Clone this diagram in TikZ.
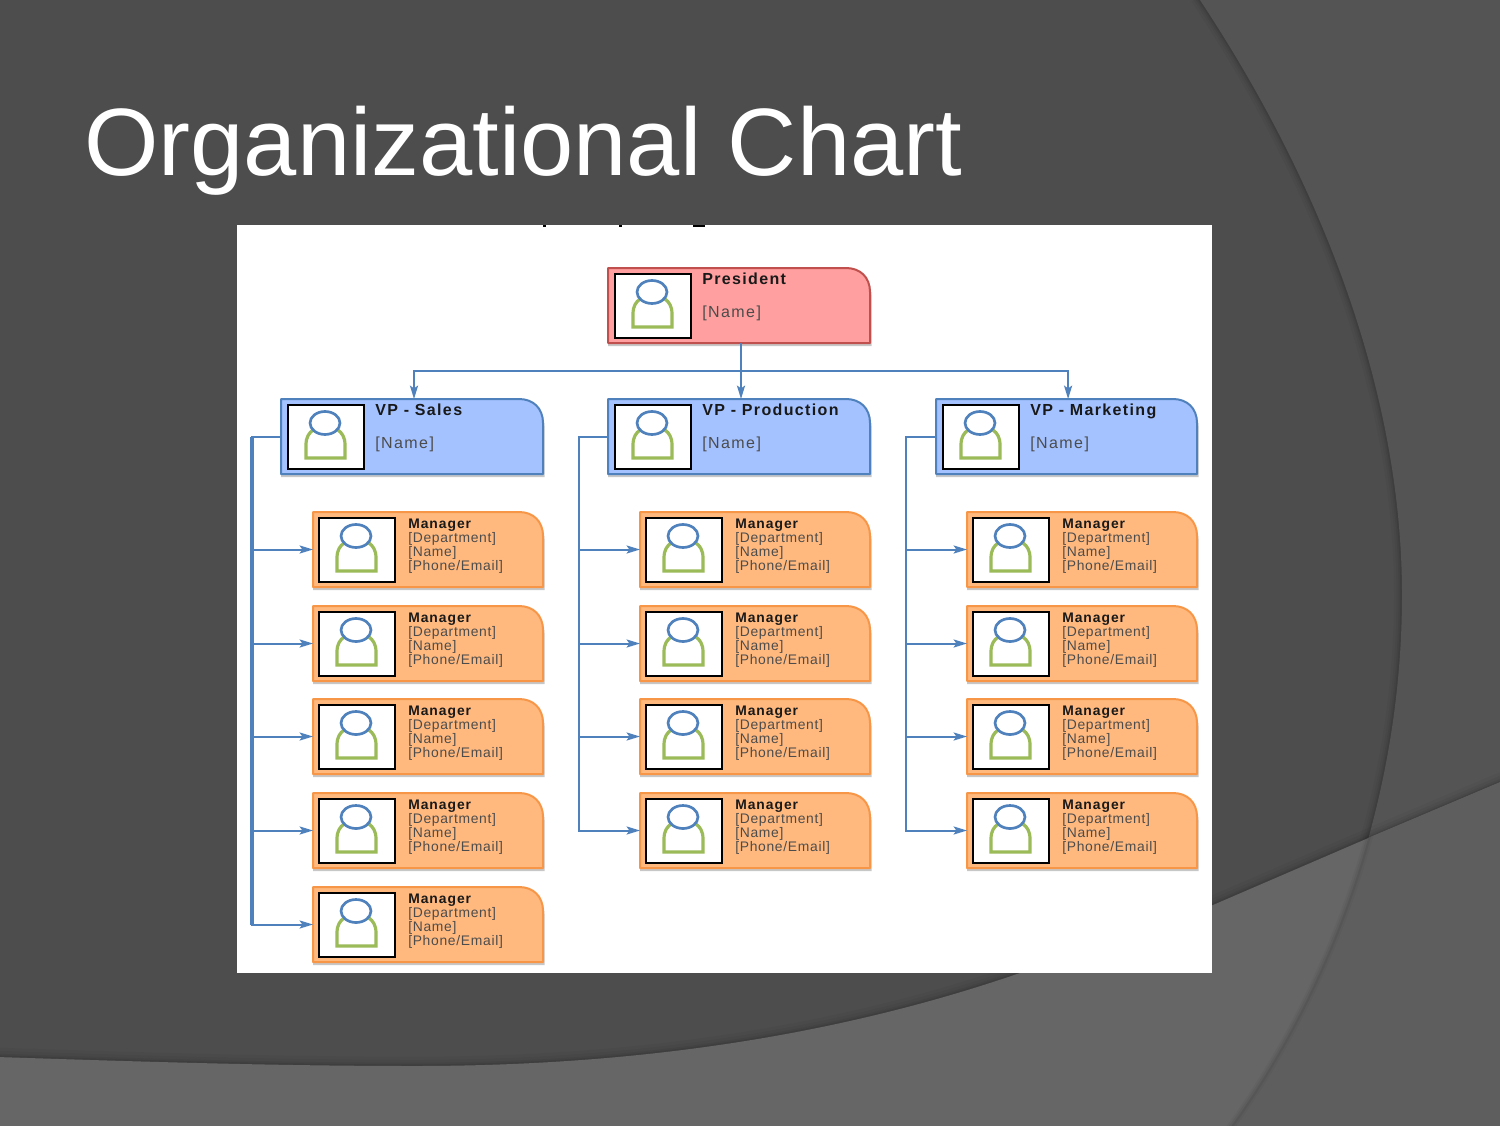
\documentclass[tikz,border=0pt]{standalone}
\usepackage{fontspec}
\setmainfont{Liberation Sans}
\newfontfamily\cardreg[LetterSpace=5]{Liberation Sans}
\newfontfamily\cardbold[LetterSpace=7]{Liberation Sans Bold}
\newfontfamily\vpreg[LetterSpace=9]{Liberation Sans}
\newfontfamily\vpbold[LetterSpace=8.5]{Liberation Sans Bold}
\usetikzlibrary{arrows.meta}
\definecolor{bgdark}{HTML}{4D4D4D}
\definecolor{bgright}{HTML}{545454}
\definecolor{bgbottom}{HTML}{666666}
\definecolor{bgcorner}{HTML}{5E5E5E}
\definecolor{linkblue}{HTML}{4F81BD}
\definecolor{personblue}{HTML}{4F81BD}
\definecolor{persongreen}{HTML}{9BBB59}
\definecolor{pinkfill}{HTML}{FF9F9F}
\definecolor{pinkline}{HTML}{C0504D}
\definecolor{bluefill}{HTML}{A4C2FF}
\definecolor{orangefill}{HTML}{FFB97F}
\definecolor{orangeline}{HTML}{F79646}
\tikzset{
  presbox/.style={fill=pinkfill,draw=pinkline},
  vpbox/.style={fill=bluefill,draw=linkblue},
  mgrbox/.style={fill=orangefill,draw=orangeline},
  link/.style={draw=linkblue,line width=1.5pt},
  linkarrow/.style={link,-{Stealth[length=10pt,width=6pt,inset=2pt]}},
  photo/.style={draw=black,line width=1.5pt,fill=white,inner sep=0pt,minimum width=57pt,minimum height=48pt,anchor=north west},
  anchorbox/.style={inner sep=0pt,outer sep=0pt},
  bigtxt/.style={anchor=base west,inner sep=0pt,text=#1},
  bigtxt/.default=black
}
% card: name, x, y, w, fill style, photo left offset
\newcommand{\cardshape}[6]{%
  \begin{scope}[shift={(#2,#3)}]
    \fill[black,opacity=.22] (0,3) -- (#4-24,3) .. controls (#4-9,3) and (#4+1.5,12) .. (#4+1.5,27) -- (#4+1.5,78) -- (0,78) -- cycle;
    \path[#5,line width=1.5pt,line join=round] (0,0) -- (#4-24,0) .. controls (#4-10,0) and (#4,9) .. (#4,24) -- (#4,75) -- (0,75) -- cycle;
    \node[anchorbox,minimum width=#4*0.75pt,minimum height=56.25pt] (#1) at (#4/2,37.5) {};
    \node[photo] (#1photo) at (#6,4.5) {};
    \draw[persongreen,line width=2.4pt,fill=white,line join=miter] (#6+19,59) -- (#6+19,46) .. controls (#6+19,38) and (#6+22,34) .. (#6+26,31) -- (#6+51,31) .. controls (#6+55,34) and (#6+58,38) .. (#6+58,46) -- (#6+58,59) -- cycle;
    \draw[personblue,line width=2pt,fill=white] (#6+38,24) ellipse [x radius=15,y radius=11.5];
  \end{scope}}
\newcommand{\mgr}[3]{%
  \cardshape{#1}{#2}{#3}{230}{mgrbox}{5}
  \begin{scope}[shift={(#2,#3)}]
    \node[bigtxt=black!90] (#1a) at (95,16) {\cardbold\fontsize{10.4pt}{11pt}\selectfont Manager};
    \node[bigtxt=black!70] (#1b) at (95,30) {\cardreg\fontsize{10.4pt}{11pt}\selectfont [Department]};
    \node[bigtxt=black!70] (#1c) at (95,44) {\cardreg\fontsize{10.4pt}{11pt}\selectfont [Name]};
    \node[bigtxt=black!70] (#1d) at (95,58) {\cardreg\fontsize{10.4pt}{11pt}\selectfont [Phone/Email]};
  \end{scope}}
\newcommand{\lead}[6]{%
  \cardshape{#1}{#2}{#3}{#4}{#5}{6}
  \begin{scope}[shift={(#2,#3)}]
    \node[bigtxt=black!90] (#1a) at (94,16) {\vpbold\fontsize{12pt}{13pt}\selectfont #6};
    \node[bigtxt=black!70] (#1b) at (94,49) {\vpreg\fontsize{12pt}{13pt}\selectfont [Name]};
  \end{scope}}
\begin{document}
\begin{tikzpicture}[x=0.75pt,y=-0.75pt]
\useasboundingbox (0,0) rectangle (1500,1125);
\def\arcpath{(1198,-3) .. controls (1320,180) and (1402,390) .. (1402,595) .. controls (1402,800) and (1330,990) .. (1230,1128)}
\def\lowpath{(-3,1057) .. controls (150,1062) and (280,1066) .. (415,1066) .. controls (640,1066) and (840,1035) .. (1020,973) .. controls (1090,950) and (1150,930) .. (1213,905) -- (1373,836) -- (1503,781)}
% slide background
\fill[bgdark] (0,0) rectangle (1500,1125);
\foreach \w/\o in {12pt/.03,8pt/.04,5pt/.05,2.5pt/.07}{\draw[black,opacity=\o,line width=\w] \arcpath;}
\fill[bgright] \arcpath -- (1503,1128) -- (1503,-3) -- cycle;
\foreach \w/\o in {14pt/.03,9pt/.04,5pt/.05,2.5pt/.07}{\draw[black,opacity=\o,line width=\w] \lowpath;}
\fill[bgbottom] \lowpath -- (1503,1128) -- (-3,1128) -- cycle;
\begin{scope}
  \clip \lowpath -- (1503,1128) -- (-3,1128) -- cycle;
  \fill[bgcorner] \arcpath -- (1503,1128) -- (1503,-3) -- cycle;
  \foreach \w/\o in {6pt/.03,3pt/.05}{\draw[black,opacity=\o,line width=\w] \arcpath;}
\end{scope}
% title
\node[anchor=base west,inner sep=0pt,text=white] (title) at (84,175) {\fontsize{71.8pt}{76pt}\selectfont Organizational Chart};
% white picture panel
\fill[white] (237,225) rectangle (1212,973);
\fill[black] (543,225) rectangle (546,227);
\fill[black] (619,225) rectangle (622,227);
\fill[black] (693,225) rectangle (705,227);
% cards
\lead{pres}{608}{268}{262}{presbox}{President}
\lead{vpa}{281}{399}{262}{vpbox}{VP - Sales}
\lead{vpb}{608}{399}{262}{vpbox}{VP - Production}
\lead{vpc}{936}{399}{261}{vpbox}{VP - Marketing}
\foreach \n/\yy in {1/512,2/606,3/699,4/793,5/887}{\mgr{ma\n}{313}{\yy}}
\foreach \n/\yy in {1/512,2/606,3/699,4/793}{\mgr{mb\n}{640}{\yy}\mgr{mc\n}{967}{\yy}}
% connectors
\coordinate (presout) at ([xshift=1.5pt]pres.south);
\draw[link] (presout) -- ++(0,28) coordinate (bus);
\draw[linkarrow] (bus) -| ([xshift=1.5pt]vpa.north);
\draw[linkarrow] (bus) -- ([xshift=1.5pt]vpb.north);
\draw[linkarrow] (bus) -| ([xshift=1.2pt]vpc.north);
\path (vpa.west) -- ++(-29,0) coordinate (trunka);
\draw[link,line width=2.3pt] (trunka) -- (trunka |- ma5.west);
\foreach \n in {1,2,3,4,5}{\draw[linkarrow] (vpa.west) -- (trunka) |- (ma\n.west);}
\foreach \n in {1,2,3,4}{
  \draw[linkarrow] (vpb.west) -- ++(-29,0) |- (mb\n.west);
  \draw[linkarrow] (vpc.west) -- ++(-30,0) |- (mc\n.west);}
\end{tikzpicture}
\end{document}
